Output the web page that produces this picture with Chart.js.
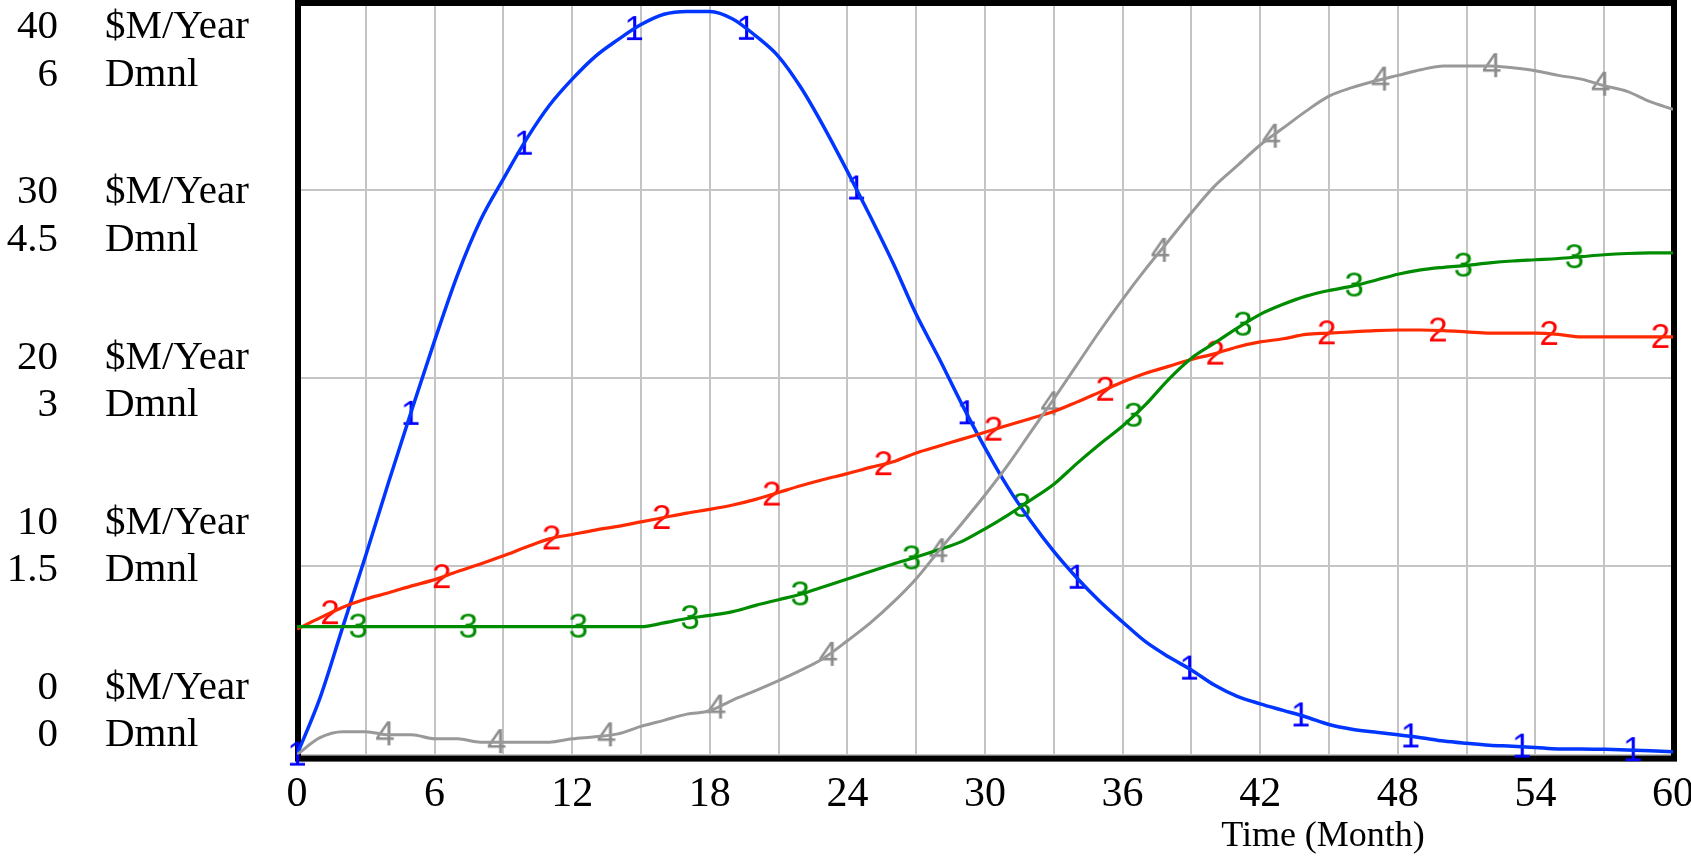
<!DOCTYPE html>
<html>
<head>
<meta charset="utf-8">
<script src="https://cdn.jsdelivr.net/npm/chart.js@4.4.1/dist/chart.umd.min.js"></script>
<style>
  html, body { margin: 0; padding: 0; background: #fff; }
</style>
</head>
<body>
<canvas id="chart" width="1691" height="863"></canvas>
<script>
// time axis (Month)
var months = [0,1,2,3,4,5,6,7,8,9,10,11,12,13,14,15,16,17,18,19,20,
  21,22,23,24,25,26,27,28,29,30,31,32,33,34,35,36,37,38,39,40,
  41,42,43,44,45,46,47,48,49,50,51,52,53,54,55,56,57,58,59,60];

// series 1 ($M/Year), blue
var series1 = [0, 3.0, 6.8, 10.6, 14.5, 18.3, 22.0, 25.5, 28.4, 30.6,
  32.7, 34.5, 35.9, 37.1, 38.0, 38.8, 39.35, 39.5, 39.5, 39.1,
  38.2, 37.1, 35.4, 33.3, 31.0, 28.6, 26.1, 23.4, 21.05, 18.6,
  16.3, 14.2, 12.4, 10.8, 9.4, 8.15, 7.05, 6.0, 5.2, 4.5,
  3.7, 3.1, 2.7, 2.35, 2.0, 1.6, 1.35, 1.2, 1.05, 0.9,
  0.72, 0.6, 0.5, 0.45, 0.38, 0.3, 0.3, 0.28, 0.25, 0.2, 0.15];

// series 2 (Dmnl), red
var series2 = [1.0, 1.09, 1.175, 1.24, 1.29, 1.345, 1.395, 1.46, 1.52, 1.585,
  1.655, 1.72, 1.755, 1.79, 1.82, 1.855, 1.89, 1.925, 1.955, 1.99,
  2.035, 2.09, 2.145, 2.195, 2.24, 2.29, 2.335, 2.405, 2.46, 2.515,
  2.57, 2.625, 2.68, 2.735, 2.81, 2.89, 2.97, 3.04, 3.095, 3.15,
  3.195, 3.25, 3.29, 3.315, 3.35, 3.36, 3.37, 3.38, 3.385, 3.385,
  3.38, 3.37, 3.36, 3.36, 3.36, 3.35, 3.33, 3.33, 3.33, 3.33, 3.33];

// series 3 (Dmnl), green
var series3 = [1.02, 1.02, 1.02, 1.02, 1.02, 1.02, 1.02, 1.02, 1.02, 1.02,
  1.02, 1.02, 1.02, 1.02, 1.02, 1.02, 1.05, 1.085, 1.11, 1.14,
  1.19, 1.235, 1.28, 1.34, 1.40, 1.46, 1.52, 1.575, 1.635, 1.70,
  1.80, 1.91, 2.03, 2.155, 2.32, 2.475, 2.62, 2.79, 2.99, 3.16,
  3.28, 3.40, 3.51, 3.59, 3.655, 3.70, 3.735, 3.78, 3.83, 3.865,
  3.885, 3.90, 3.92, 3.935, 3.945, 3.955, 3.97, 3.985, 3.995, 4.0, 4.0];

// series 4 ($M/Year), gray
var series4 = [0, 0.9, 1.22, 1.22, 1.05, 1.05, 0.84, 0.84, 0.66, 0.66,
  0.66, 0.66, 0.84, 0.95, 1.1, 1.5, 1.82, 2.15, 2.33, 2.9,
  3.4, 3.93, 4.5, 5.15, 6.05, 7.0, 8.1, 9.35, 10.85, 12.3,
  13.8, 15.4, 17.15, 18.9, 20.7, 22.5, 24.2, 25.8, 27.3, 28.8,
  30.2, 31.3, 32.4, 33.3, 34.2, 35.0, 35.45, 35.8, 36.1, 36.4,
  36.6, 36.6, 36.6, 36.5, 36.35, 36.1, 35.9, 35.55, 35.25, 34.7, 34.3];

// where the number markers sit on each line (Month)
var marks1 = [0, 4.95, 9.89, 14.7, 19.58, 24.38, 29.2, 34.0, 38.9, 43.76, 48.55, 53.4, 58.24];
var marks2 = [1.44, 6.31, 11.1, 15.9, 20.7, 25.57, 30.37, 35.24, 40.04, 44.9, 49.75, 54.6, 59.45];
var marks3 = [2.67, 7.47, 12.27, 17.14, 21.94, 26.8, 31.6, 36.48, 41.25, 46.1, 50.86, 55.7];
var marks4 = [3.84, 8.71, 13.5, 18.3, 23.17, 27.97, 32.84, 37.65, 42.49, 47.25, 52.1, 56.85];

// left scale labels
var moneyTicks = ['40', '30', '20', '10', '0'];
var dmnlTicks = ['6', '4.5', '3', '1.5', '0'];
var moneyUnit = '$M/Year';
var dmnlUnit = 'Dmnl';
var timeTitle = 'Time (Month)';

var SERIF = '"Liberation Serif", "Times New Roman", serif';

function toPoints(vals) {
    return months.map(function(m, i) { return {x: m, y: vals[i]}; });
}

// value of a series at time t, between the monthly samples
function valueAt(vals, t) {
    var i = Math.floor(t);
    if (i >= vals.length - 1) return vals[vals.length - 1];
    var f = t - i;
    return vals[i] + (vals[i + 1] - vals[i]) * f;
}

function digitImage(txt, color) {
    var c = document.createElement('canvas');
    c.width = 32;
    c.height = 42;
    var g = c.getContext('2d');
    g.font = '35px "Liberation Sans", Arial, sans-serif';
    g.fillStyle = color;
    g.textAlign = 'center';
    g.textBaseline = 'middle';
    g.fillText(txt, 16, 22);
    return c;
}

function lineSet(vals, color, width, axis) {
    return {
        data: toPoints(vals),
        borderColor: color,
        borderWidth: width,
        pointRadius: 0,
        fill: false,
        cubicInterpolationMode: 'monotone',
        yAxisID: axis
    };
}

function markSet(vals, marks, label, color, axis) {
    return {
        data: marks.map(function(t) { return {x: t, y: valueAt(vals, t)}; }),
        showLine: false,
        pointStyle: digitImage(label, color),
        pointRadius: 5,
        yAxisID: axis,
        clip: false
    };
}

var decor = {
    id: 'decor',
    beforeDatasetsDraw: function(chart) {
        var a = chart.chartArea, ctx = chart.ctx;
        ctx.save();
        ctx.strokeStyle = '#000';
        ctx.lineWidth = 6;
        ctx.strokeRect(a.left + 1, a.top + 1, a.right - a.left, a.bottom - a.top + 3);
        ctx.restore();
    },
    afterDraw: function(chart) {
        var a = chart.chartArea, ctx = chart.ctx;
        ctx.save();
        ctx.font = '41px ' + SERIF;
        ctx.fillStyle = '#000';
        ctx.textBaseline = 'middle';
        var y0 = a.top + 25, y1 = a.bottom - 66;
        var d0 = a.top + 73, d1 = a.bottom - 19;
        for (var i = 0; i < moneyTicks.length; i++) {
            var ym = y0 + (y1 - y0) * i / 4;
            var yd = d0 + (d1 - d0) * i / 4;
            ctx.textAlign = 'right';
            ctx.fillText(moneyTicks[i], 58, ym);
            ctx.fillText(dmnlTicks[i], 58, yd);
            ctx.textAlign = 'left';
            ctx.fillText(moneyUnit, 105, ym);
            ctx.fillText(dmnlUnit, 105, yd);
        }
        ctx.font = '36px ' + SERIF;
        ctx.textAlign = 'center';
        ctx.fillText(timeTitle, 1323, 837);
        ctx.restore();
    }
};

var ctx = document.getElementById('chart');
var chart = new Chart(ctx, {
    type: 'line',
    data: {
        datasets: [
            lineSet(series4, '#999999', 3, 'y'),
            lineSet(series3, '#008c00', 3.2, 'y1'),
            lineSet(series2, '#ff2a00', 3.2, 'y1'),
            lineSet(series1, '#0036ff', 3.5, 'y'),
            markSet(series4, marks4, '4', '#8c8c8c', 'y'),
            markSet(series3, marks3, '3', '#008c00', 'y1'),
            markSet(series2, marks2, '2', '#ff0000', 'y1'),
            markSet(series1, marks1, '1', '#0000ff', 'y')
        ]
    },
    options: {
        responsive: false,
        devicePixelRatio: 1,
        animation: false,
        events: [],
        layout: {
            autoPadding: false,
            padding: {left: 297, right: 18, top: 2, bottom: 28}
        },
        plugins: {
            legend: {display: false},
            tooltip: {enabled: false}
        },
        scales: {
            x: {
                type: 'linear',
                min: 0,
                max: 60,
                border: {display: false},
                grid: {color: '#c4c4c4', lineWidth: 2, drawTicks: false},
                afterFit: function(s) { s.paddingLeft = 0; s.paddingRight = 0; },
                ticks: {
                    stepSize: 3,
                    autoSkip: false,
                    maxRotation: 0,
                    padding: 15,
                    color: '#000',
                    font: {family: SERIF, size: 42},
                    callback: function(v) { return v % 6 === 0 ? String(v) : ''; }
                }
            },
            y: {
                min: 0,
                max: 40,
                border: {display: false},
                grid: {color: '#c4c4c4', lineWidth: 2, drawTicks: false},
                ticks: {display: false, stepSize: 10}
            },
            y1: {
                display: false,
                min: 0,
                max: 6
            }
        }
    },
    plugins: [decor]
});
</script>
</body>
</html>
